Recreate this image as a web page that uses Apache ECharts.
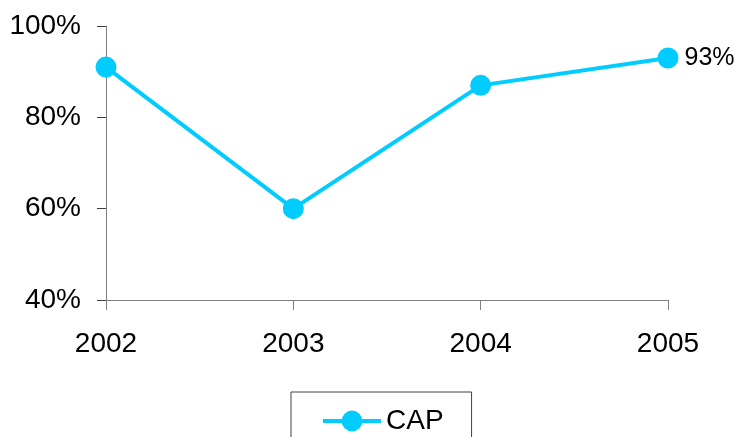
<!DOCTYPE html>
<html>
<head>
<meta charset="utf-8">
<script src="https://cdn.jsdelivr.net/npm/echarts@6/dist/echarts.min.js"></script>
<style>
  html, body { margin: 0; padding: 0; background: #fff; }
  #chart { width: 741px; height: 437px; }
</style>
</head>
<body>
<div id="chart"></div>
<script>
const years = ['2002', '2003', '2004', '2005']
const capValues = [91, 60, 87, 93]
const yTicks = [40, 60, 80, 100]

let myChart = echarts.init(document.getElementById('chart'))
myChart.setOption({
  animation: false,
  textStyle: { fontFamily: 'Liberation Sans, Arial, sans-serif' },
  grid: {
    left: 106,
    right: 73,
    top: 26,
    bottom: 137
  },
  legend: {
    data: ['CAP'],
    left: 291,
    top: 392,
    padding: [15, 28, 40, 30],
    borderColor: '#404040',
    borderWidth: 1,
    itemWidth: 58,
    itemHeight: 26,
    itemGap: 7,
    lineStyle: { width: 4 },
    textStyle: { fontSize: 28, color: '#000', fontFamily: 'Liberation Sans, Arial, sans-serif' }
  },
  xAxis: {
    type: 'category',
    data: years,
    boundaryGap: false,
    axisLine: { lineStyle: { color: '#808080', width: 1 } },
    axisTick: { show: true, length: 10, lineStyle: { color: '#808080' } },
    axisLabel: { fontSize: 28, color: '#000', margin: 30 }
  },
  yAxis: {
    type: 'value',
    min: yTicks[0],
    max: yTicks[yTicks.length - 1],
    interval: 20,
    splitLine: { show: false },
    axisLine: { show: true, lineStyle: { color: '#808080', width: 1 } },
    axisTick: { show: true, length: 9, lineStyle: { color: '#404040' } },
    axisLabel: { fontSize: 28, color: '#000', margin: 25, formatter: '{value}%' }
  },
  series: [
    {
      name: 'CAP',
      type: 'line',
      data: capValues,
      symbol: 'circle',
      symbolSize: 21,
      color: '#00CCFF',
      lineStyle: { width: 4, color: '#00CCFF' },
      itemStyle: { color: '#00CCFF' },
      label: {
        show: true,
        position: 'right',
        distance: 6,
        fontSize: 25,
        color: '#000',
        formatter: function (p) {
          return p.dataIndex === capValues.length - 1 ? p.value + '%' : ''
        }
      }
    }
  ]
})
</script>
</body>
</html>
